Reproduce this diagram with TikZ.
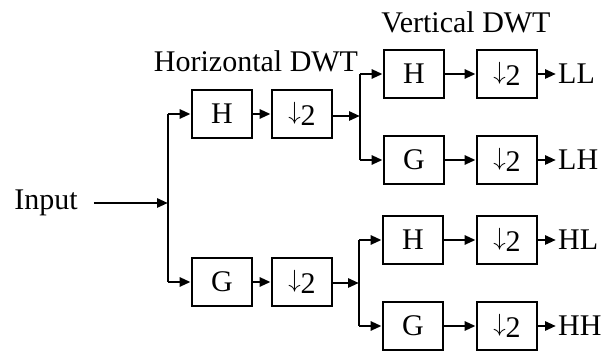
\documentclass[tikz,border=0pt]{standalone}
\usepackage{fontspec}
\setmainfont{Liberation Serif}
\usetikzlibrary{arrows.meta}
\newcommand{\dtwo}{\raisebox{0.18em}{$\downarrow$}2}
\begin{document}
\begin{tikzpicture}[x=1pt,y=-1pt,
  every node/.style={font=\fontsize{30}{34}\selectfont},
  blk/.style={draw,line width=2.8pt,minimum width=60pt,minimum height=48pt,inner sep=0pt},
  conn/.style={line width=2.7pt,-{Triangle[length=11pt,width=9pt]}},
  wire/.style={line width=2.7pt}]
\useasboundingbox[fill=white] (0,0) rectangle (608,352);
% inputs and labels
\node[inner xsep=16pt,inner ysep=0pt] (in) at (46,203) {Input};
\node[anchor=base] (hl) at (256,72) {Horizontal DWT};
\node[anchor=base] (vl) at (466,33) {Vertical DWT};
% first stage
\coordinate (j1) at (168,203);
\coordinate (j1t) at (168,114);
\coordinate (j1b) at (168,282);
\node[blk] (h1) at (222,114) {H};
\node[blk] (d1) at (302,114) {\dtwo};
\node[blk] (g1) at (222,282) {G};
\node[blk] (d2) at (302,282) {\dtwo};
% second stage top
\coordinate (j2) at (360,116);
\coordinate (j2t) at (360,74);
\coordinate (j2b) at (360,160);
\node[blk] (h2) at (414,74) {H};
\node[blk] (d3) at (507,74) {\dtwo};
\node[blk] (g2) at (414,160) {G};
\node[blk] (d4) at (507,160) {\dtwo};
% second stage bottom
\coordinate (j3) at (359,283);
\coordinate (j3t) at (359,240);
\coordinate (j3b) at (359,326);
\node[blk] (h3) at (413,240) {H};
\node[blk] (d5) at (507,240) {\dtwo};
\node[blk] (g3) at (413,326) {G};
\node[blk] (d6) at (507,326) {\dtwo};
% outputs
\node[anchor=west,inner xsep=2pt] (ll) at (556,74) {LL};
\node[anchor=west,inner xsep=2pt] (lh) at (556,160) {LH};
\node[anchor=west,inner xsep=2pt] (hlo) at (556,240) {HL};
\node[anchor=west,inner xsep=2pt] (hh) at (556,326) {HH};
% connectors
\draw[conn] (in.east) -- (j1);
\draw[wire] (j1t) -- (j1b);
\draw[conn] (j1t) -- (h1.west);
\draw[conn] (j1b) -- (g1.west);
\draw[conn] (h1) -- (d1);
\draw[conn] (g1) -- (d2);
\draw[conn] (d1.east |- j2) -- (j2);
\draw[conn] (d2.east |- j3) -- (j3);
\draw[wire] (j2t) -- (j2b);
\draw[wire] (j3t) -- (j3b);
\draw[conn] (j2t) -- (h2.west);
\draw[conn] (j2b) -- (g2.west);
\draw[conn] (j3t) -- (h3.west);
\draw[conn] (j3b) -- (g3.west);
\draw[conn] (h2) -- (d3);
\draw[conn] (g2) -- (d4);
\draw[conn] (h3) -- (d5);
\draw[conn] (g3) -- (d6);
\draw[conn] (d3) -- (ll);
\draw[conn] (d4) -- (lh);
\draw[conn] (d5) -- (hlo);
\draw[conn] (d6) -- (hh);
\end{tikzpicture}
\end{document}
